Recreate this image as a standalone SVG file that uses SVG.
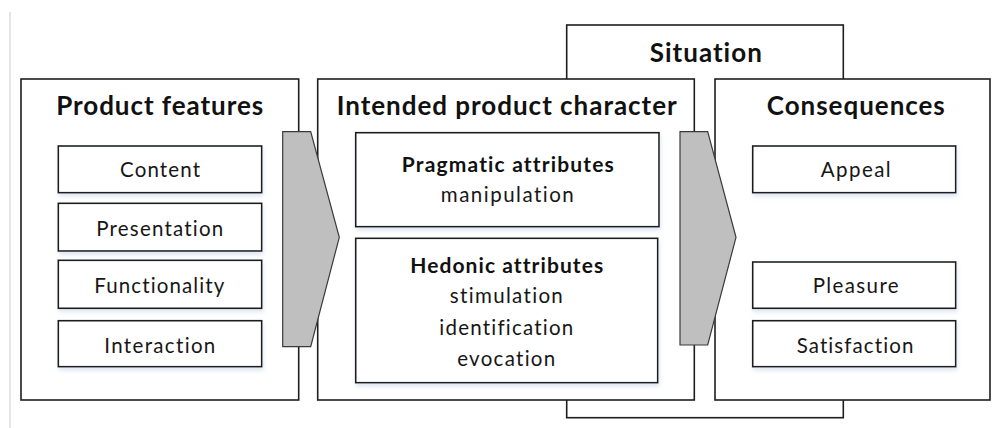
<svg xmlns="http://www.w3.org/2000/svg" width="993" height="428" viewBox="0 0 993 428">
  <defs>
    <filter id="soft" x="-10%" y="-10%" width="130%" height="140%">
      <feDropShadow dx="1" dy="3" stdDeviation="2" flood-color="#9fb6d6" flood-opacity="0.35"/>
    </filter>
  </defs>
  <style>
    text { font-family: Lato, "Open Sans", sans-serif; text-anchor: middle; font-variant-ligatures: none; font-feature-settings: "liga" 0, "clig" 0; }
    .frame { fill: #ffffff; stroke: #1e1e1e; stroke-width: 1.6; }
    .item { fill: #ffffff; stroke: #1e1e1e; stroke-width: 1.6; filter: url(#soft); }
    .head { font-weight: 700; font-size: 26px; fill: #111111; }
    .sub { font-weight: 700; font-size: 21px; fill: #111111; }
    .txt { font-size: 20.5px; fill: #161616; }
    .chev { fill: #bfbfbf; stroke: #3a3a3a; stroke-width: 1.2; stroke-linejoin: miter; }
  </style>

  <rect width="993" height="428" fill="#ffffff"/>
  <line x1="10" y1="12" x2="10" y2="428" stroke="#dcdcdc" stroke-width="1.5"/>

  <!-- background situation frame -->
  <g id="situation">
    <rect class="frame" x="566.7" y="25" width="276.6" height="392.7"/>
    <text class="head" x="705.8" y="61.7" textLength="112" lengthAdjust="spacing">Situation</text>
  </g>

  <g id="product-features">
    <rect class="frame" x="21" y="79" width="277.7" height="321"/>
    <text class="head" x="159.7" y="115" textLength="207" lengthAdjust="spacing">Product features</text>
    <g id="content">
      <rect class="item" x="58.3" y="146" width="203.4" height="46.7"/>
      <text class="txt" x="160" y="176.5" textLength="80" lengthAdjust="spacing">Content</text>
    </g>
    <g id="presentation">
      <rect class="item" x="58.3" y="203.3" width="203.4" height="47.7"/>
      <text class="txt" x="159.7" y="235.5" textLength="127" lengthAdjust="spacing">Presentation</text>
    </g>
    <g id="functionality">
      <rect class="item" x="58.3" y="260.3" width="203.4" height="48"/>
      <text class="txt" x="159.3" y="292.5" textLength="130" lengthAdjust="spacing">Functionality</text>
    </g>
    <g id="interaction">
      <rect class="item" x="58.3" y="320.7" width="203.4" height="46"/>
      <text class="txt" x="159.8" y="352.5" textLength="111" lengthAdjust="spacing">Interaction</text>
    </g>
  </g>

  <g id="intended-product-character">
    <rect class="frame" x="317.7" y="79" width="376.6" height="321"/>
    <text class="head" x="506.7" y="115" textLength="340" lengthAdjust="spacing">Intended product character</text>
    <g id="pragmatic">
      <rect class="item" x="355.7" y="132.7" width="303.3" height="94"/>
      <text class="sub" x="507.8" y="171.5" textLength="212" lengthAdjust="spacing">Pragmatic attributes</text>
      <text class="txt" x="507.3" y="201.5" textLength="133" lengthAdjust="spacing">manipulation</text>
    </g>
    <g id="hedonic">
      <rect class="item" x="355.7" y="238.3" width="302" height="144.4"/>
      <text class="sub" x="506.7" y="273.3" textLength="193" lengthAdjust="spacing">Hedonic attributes</text>
      <text class="txt" x="506.3" y="303.3" textLength="113" lengthAdjust="spacing">stimulation</text>
      <text class="txt" x="506.3" y="335" textLength="134" lengthAdjust="spacing">identification</text>
      <text class="txt" x="506.2" y="365.7" textLength="98" lengthAdjust="spacing">evocation</text>
    </g>
  </g>

  <g id="consequences">
    <rect class="frame" x="715" y="79" width="275" height="321"/>
    <text class="head" x="855.8" y="115" textLength="178" lengthAdjust="spacing">Consequences</text>
    <g id="appeal">
      <rect class="item" x="752.7" y="146" width="203" height="46.7"/>
      <text class="txt" x="855.7" y="176.5" textLength="70" lengthAdjust="spacing">Appeal</text>
    </g>
    <g id="pleasure">
      <rect class="item" x="752.7" y="262" width="203" height="46.3"/>
      <text class="txt" x="855.7" y="293.3" textLength="86" lengthAdjust="spacing">Pleasure</text>
    </g>
    <g id="satisfaction">
      <rect class="item" x="752.7" y="320.7" width="203" height="46"/>
      <text class="txt" x="855" y="352.5" textLength="116.7" lengthAdjust="spacing">Satisfaction</text>
    </g>
  </g>

  <!-- chevron connectors between the stages -->
  <g id="connectors">
    <polygon class="chev" points="282.7,131.7 310.7,131.7 339.3,237.3 310.7,346.7 282.7,346.7"/>
    <polygon class="chev" points="680,131.7 707.7,131.7 736,237.3 707.7,345 680,345"/>
  </g>
</svg>
